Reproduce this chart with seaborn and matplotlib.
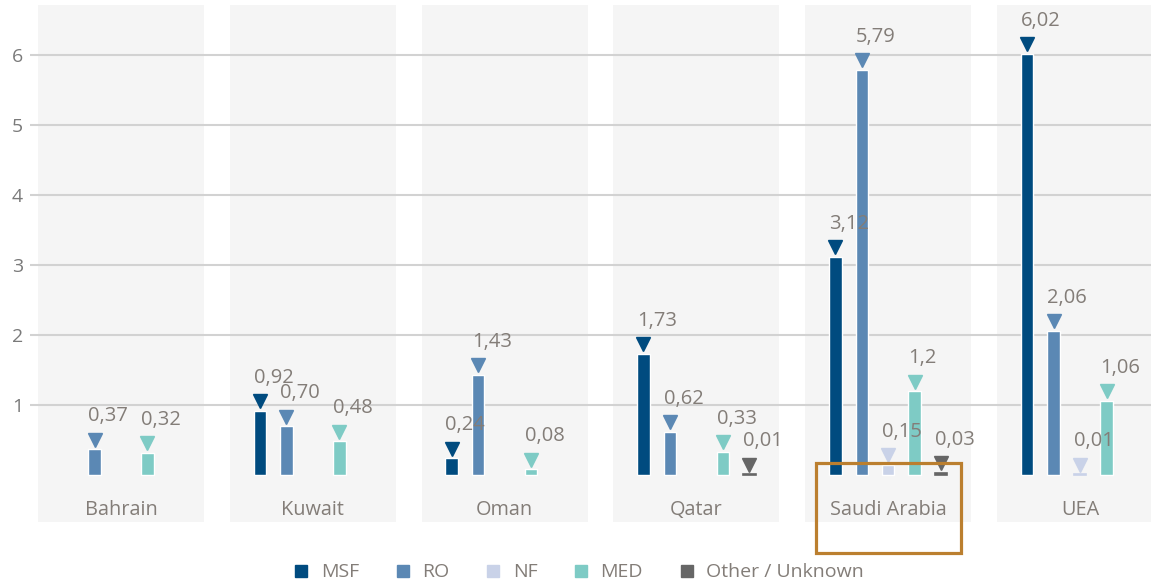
import numpy as np
import pandas as pd
import seaborn as sns
import matplotlib.pyplot as plt
from matplotlib.lines import Line2D
from matplotlib.patches import Rectangle
from matplotlib.transforms import offset_copy, blended_transform_factory

# ---- data ----
countries = ["Bahrain", "Kuwait", "Oman", "Qatar", "Saudi Arabia", "UEA"]
series = ["MSF", "RO", "NF", "MED", "Other / Unknown"]
msf = [np.nan, 0.92, 0.24, 1.73, 3.12, 6.02]
ro = [0.37, 0.70, 1.43, 0.62, 5.79, 2.06]
nf = [np.nan, np.nan, np.nan, np.nan, 0.15, 0.01]
med = [0.32, 0.48, 0.08, 0.33, 1.20, 1.06]
other = [np.nan, np.nan, np.nan, 0.01, 0.03, np.nan]
label_override = {("Saudi Arabia", "MED"): "1,2"}
yticks = [1, 2, 3, 4, 5, 6]

colors = ["#004b7f", "#5b88b4", "#c9d2e8", "#7ecbc5", "#666666"]
text_color = "#837d78"

rows = []
for name, vals in zip(series, [msf, ro, nf, med, other]):
    for c, v in zip(countries, vals):
        rows.append({"country": c, "series": name, "value": v})
df = pd.DataFrame(rows).dropna()

sns.set_style("white")
plt.rcParams["font.family"] = ["Open Sans", "DejaVu Sans"]

fig = plt.figure(figsize=(11.51, 5.8), dpi=100)
ax = fig.add_axes([30 / 1151, 0.1, 1 - 30 / 1151, 0.9914 - 0.1])

total_w = 0.69
sns.barplot(data=df, x="country", y="value", hue="series", order=countries,
            hue_order=series, palette=colors, width=total_w, gap=0.53,
            errorbar=None, legend=False, saturation=1, ax=ax, zorder=2)

# triangle markers + value labels above each bar (only the seaborn bars)
tri = offset_copy(ax.transData, fig=fig, x=0, y=9.5, units="dots")
lab = offset_copy(ax.transData, fig=fig, x=0, y=33, units="dots")
slot = total_w / len(series)
for cont in ax.containers:
    for bar in cont:
        h = bar.get_height()
        if not np.isfinite(h) or h <= 0:
            continue
        cx = bar.get_x() + bar.get_width() / 2
        ci = int(round(cx))
        si = int(round((cx - ci) / slot + 2))
        # tiny values still show a thin base line, as in the source
        if h < 0.05:
            bar.set_edgecolor(colors[si])
            bar.set_linewidth(1.2)
        key = (countries[ci], series[si])
        txt = label_override.get(key, f"{h:.2f}".replace(".", ","))
        ax.plot(cx, h, marker="v", ms=10, color=colors[si], transform=tri,
                zorder=3, clip_on=False)
        ax.text(bar.get_x(), h, txt, transform=lab, ha="left", va="center",
                fontsize=14.5, color=text_color, zorder=4)

# grey panel behind each country
for i in range(len(countries)):
    ax.axvspan(i - 0.433, i + 0.433, color="#f5f5f5", zorder=0, lw=0)

ax.set_xlim(-0.4745, 5.37)
ax.set_ylim(-0.671, 6.714)
ax.set_yticks(yticks)
ax.set_yticklabels([str(t) for t in yticks])
ax.set_xticks([])
ax.set_xlabel("")
ax.set_ylabel("")
ax.set_axisbelow(True)
ax.grid(axis="y", color="#d2d2d2", lw=1.5, zorder=0.5)
ax.grid(axis="x", visible=False)
for s in ax.spines.values():
    s.set_visible(False)
ax.tick_params(axis="y", length=0, pad=5, labelsize=14, labelcolor="#7a7a7a")

for i, c in enumerate(countries):
    ax.text(i, -0.50, c, ha="center", va="center", fontsize=14.3, color=text_color)

# legend
handles = [Line2D([], [], marker="s", ls="", ms=9, color=col) for col in colors]
leg = fig.legend(handles, series, loc="center", bbox_to_anchor=(0.502, 0.013),
                 ncol=5, frameon=False, fontsize=14, handletextpad=0.5,
                 columnspacing=1.75, handlelength=1.0)
for t in leg.get_texts():
    t.set_color(text_color)

# highlight box around Saudi Arabia
bt = blended_transform_factory(ax.transData, fig.transFigure)
box = Rectangle((4 - 0.378, 1 - 553 / 580), 0.756, 90 / 580, transform=bt,
                fill=False, ec="#bb7f2f", lw=2.3, clip_on=False, zorder=5)
fig.add_artist(box)

fig.savefig("out.png", dpi=100)
